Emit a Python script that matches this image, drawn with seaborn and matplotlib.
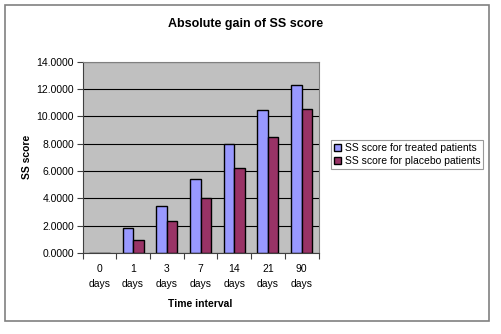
import matplotlib.pyplot as plt
import seaborn as sns
import pandas as pd
from matplotlib.patches import Rectangle

# 데이터
days = ['0\ndays', '1\ndays', '3\ndays', '7\ndays', '14\ndays', '21\ndays', '90\ndays']
treated = [0.0, 1.83, 3.42, 5.40, 8.00, 10.42, 12.30]
placebo = [0.0, 0.98, 2.32, 4.01, 6.23, 8.46, 10.54]
series = ['SS score for treated patients', 'SS score for placebo patients']

df = pd.DataFrame({
    'day': days * 2,
    'score': treated + placebo,
    'group': [series[0]] * len(days) + [series[1]] * len(days),
})

plt.rcParams['font.family'] = ['Liberation Sans', 'DejaVu Sans']

W, H = 501, 334
fig = plt.figure(figsize=(W / 100, H / 100), dpi=100)
ax = fig.add_axes([82.5 / W, 1 - 253 / H, (318.5 - 82.5) / W, (253 - 61.5) / H])

sns.barplot(data=df, x='day', y='score', hue='group', ax=ax,
            palette=['#9999FF', '#993366'], width=0.62,
            edgecolor='black', linewidth=1.0, saturation=1, legend=True)

ax.set_facecolor('#C0C0C0')
ax.set_ylim(0, 14)
ax.set_xlim(-0.5, len(days) - 0.5)
ax.set_yticks(range(0, 15, 2))
ax.set_yticklabels([f'{v:.4f}' for v in range(0, 15, 2)], fontsize=7.5)
ax.yaxis.grid(True, color='black', linewidth=0.8)
ax.set_axisbelow(True)

# x 눈금: 범주 경계에 눈금선, 라벨은 가운데
ax.set_xticks([i - 0.5 for i in range(len(days) + 1)])
ax.set_xticklabels([])
ax.set_xticks(range(len(days)), minor=True)
ax.set_xticklabels(days, minor=True, fontsize=7.5, linespacing=1.6)
ax.tick_params(axis='x', which='minor', length=0, pad=8)
ax.tick_params(axis='x', which='major', length=4, width=0.8, color='#404040')
ax.tick_params(axis='y', length=4, width=0.8, color='#404040', pad=2)

for s in ['top', 'right']:
    ax.spines[s].set_color('#808080')
for s in ['left', 'bottom']:
    ax.spines[s].set_color('#404040')
for s in ax.spines.values():
    s.set_linewidth(0.8)

ax.set_xlabel('Time interval', fontsize=7.5, fontweight='bold', labelpad=7)
ax.set_ylabel('SS score', fontsize=7.5, fontweight='bold', labelpad=3)

fig.text(246 / W, 1 - 24 / H, 'Absolute gain of SS score', ha='center', va='center',
         fontsize=9, fontweight='bold')

leg = ax.legend(loc='upper left', bbox_to_anchor=(331 / W, 1 - 140 / H),
                bbox_transform=fig.transFigure, fontsize=7.5, frameon=True,
                fancybox=False, edgecolor='#808080', handlelength=0.7,
                handleheight=0.7, handletextpad=0.3, borderpad=0.3,
                labelspacing=0.3, borderaxespad=0)
leg.get_frame().set_linewidth(0.8)

fig.patches.append(Rectangle((5 / W, 1 - 321 / H), (489 - 5) / W, (321 - 5) / H,
                             transform=fig.transFigure, fill=False,
                             edgecolor='#808080', linewidth=1.2))

fig.savefig('out.png', dpi=100)
